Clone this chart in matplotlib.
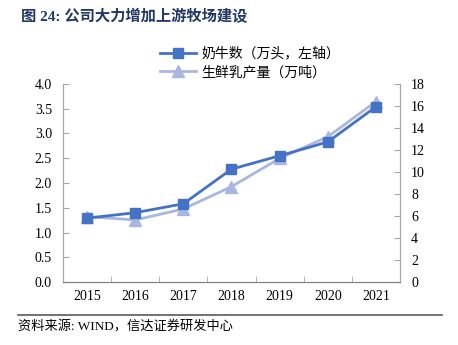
import matplotlib
matplotlib.use("Agg")
import matplotlib.pyplot as plt
from matplotlib.lines import Line2D

plt.rcParams['font.family'] = ['Liberation Serif', 'Noto Sans CJK SC', 'DejaVu Sans']

years = ['2015', '2016', '2017', '2018', '2019', '2020', '2021']
cows = [1.29, 1.40, 1.58, 2.28, 2.55, 2.83, 3.54]
milk = [5.94, 5.64, 6.64, 8.67, 11.24, 13.2, 16.4]
left_ticks = [0.0, 0.5, 1.0, 1.5, 2.0, 2.5, 3.0, 3.5, 4.0]
right_ticks = [0, 2, 4, 6, 8, 10, 12, 14, 16, 18]
title = "图 24: 公司大力增加上游牧场建设"
source = "资料来源: WIND，信达证券研发中心"
label_cows = "奶牛数（万头，左轴）"
label_milk = "生鲜乳产量（万吨）"

c_cows = '#4472C4'
c_milk = '#A9B7E0'
spine_c = '#A6A6A6'

fig = plt.figure(figsize=(4.58, 3.45), dpi=100)
ax = fig.add_axes([63/458, 1-282/345, (400-63)/458, (282-84)/345])
ax2 = ax.twinx()

x = list(range(len(years)))
ax.plot(x, cows, color=c_cows, lw=2, marker='s', ms=7, zorder=3)
ax2.plot(x, milk, color=c_milk, lw=2, marker='^', ms=8, zorder=2)
ax.set_zorder(ax2.get_zorder() + 1)
ax.patch.set_visible(False)

ax.set_xlim(-0.5, len(years) - 0.5)
ax.set_xticks(x)
ax.set_xticklabels(years)
ax.set_xticks([i + 0.5 for i in range(len(years) - 1)], minor=True)
ax.tick_params(axis='x', which='major', length=0, labelsize=10, pad=6)
ax.tick_params(axis='x', which='minor', length=4, direction='in', color=spine_c)

ax.set_ylim(0, 4)
ax.set_yticks(left_ticks)
ax.set_yticklabels([f"{v:.1f}" for v in left_ticks])
ax.tick_params(axis='y', length=4, direction='in', color=spine_c, labelsize=10, pad=8)

ax2.set_ylim(0, 18)
ax2.set_yticks(right_ticks)
ax2.tick_params(axis='y', length=4, direction='in', color=spine_c, labelsize=10, pad=8)

for a in (ax, ax2):
    a.spines['top'].set_visible(False)
    for s in ('left', 'right', 'bottom'):
        a.spines[s].set_color(spine_c)
ax.spines['bottom'].set_color('#7F7F7F')

handles = [Line2D([], [], color=c_cows, lw=2, marker='s', ms=7),
           Line2D([], [], color=c_milk, lw=2, marker='^', ms=8)]
fig.legend(handles, [label_cows, label_milk], loc='upper left', bbox_to_anchor=(147/458, 1-34/345),
           frameon=False, handlelength=2.6, handletextpad=0.4, labelspacing=0.35,
           prop={'family': ['Noto Sans CJK SC'], 'size': 10})

fig.text(21/458, 1-17/345, title, fontsize=11, fontweight='bold', color='#1F3864',
         va='center', ha='left', family=['Liberation Serif', 'Noto Sans CJK SC'])

fig.add_artist(Line2D([18/458, 442/458], [1-315/345, 1-315/345], color='#595959', lw=1.2))
fig.text(18/458, 1-327/345, source, fontsize=9.5, va='center', ha='left',
         family=['Liberation Serif', 'Noto Sans CJK SC'])

fig.savefig('out.png', dpi=100)
